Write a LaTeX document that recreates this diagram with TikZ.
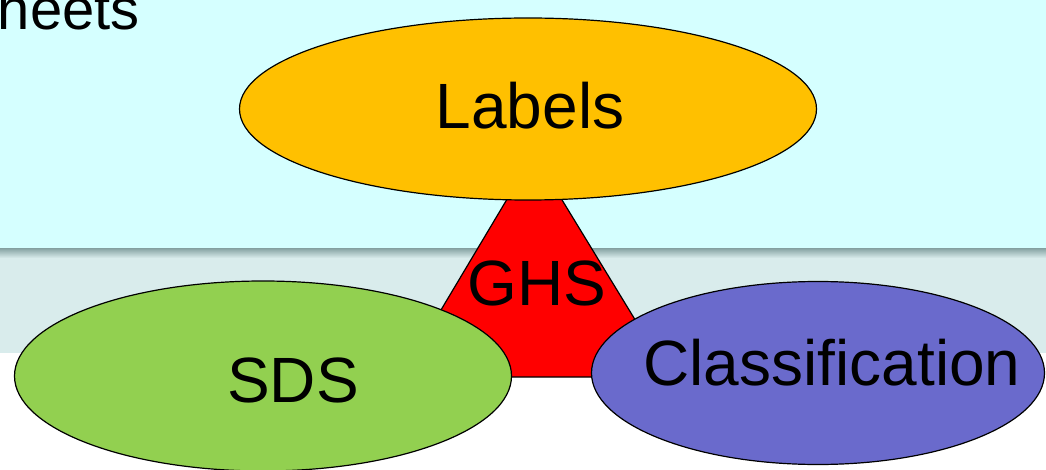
\documentclass[tikz,border=0pt]{standalone}
\usepackage{fontspec}
\setmainfont{Liberation Sans}
\usetikzlibrary{shapes.geometric}
\definecolor{skycyan}{RGB}{213,255,255}
\definecolor{bandgray}{RGB}{217,236,236}
\definecolor{shadowgray}{RGB}{140,168,168}
\definecolor{labelorange}{RGB}{255,192,0}
\definecolor{sdsgreen}{RGB}{146,208,80}
\definecolor{classpurple}{RGB}{106,106,204}

\begin{document}
\begin{tikzpicture}[x=1pt,y=-1pt,
    bigtext/.style={font=\fontsize{64}{76}\selectfont,inner sep=0pt},
    blob/.style={draw,ellipse,line width=1.2pt,inner sep=0pt}]
    \useasboundingbox (0,0) rectangle (1046,470);
    \clip (0,0) rectangle (1046,470);

    % Slide background
    \fill[skycyan] (0,0) rectangle (1046,249);
    \fill[bandgray] (0,258) rectangle (1046,353);
    \shade[top color=shadowgray,bottom color=bandgray] (0,249) rectangle (1046,258);

    % Title fragment
    \node[font=\fontsize{58}{68}\selectfont,inner sep=0pt,anchor=base east] (title) at (140,30) {Sheets};

    % GHS triangle
    \coordinate (apex) at (534,154);
    \coordinate (baseright) at (670,377);
    \coordinate (baseleft) at (401,377);
    \draw[line width=1.2pt,fill=red] (apex) -- (baseright) -- (baseleft) -- cycle;
    \node[bigtext] (ghs) at (537,283) {GHS};

    % Ellipses
    \node[blob,fill=labelorange,minimum width=577pt,minimum height=182pt] (labels) at (528,109) {};
    \node[blob,fill=sdsgreen,minimum width=497pt,minimum height=190pt] (sds) at (263,376) {};
    \node[blob,fill=classpurple,minimum width=453pt,minimum height=183pt] (class) at (818,373) {};

    % Texts
    \node[bigtext] (labelstext) at (530,106) {Labels};
    \node[bigtext] (sdstext) at (293,380) {SDS};
    \node[bigtext] (classtext) at (832,363) {Classification};
\end{tikzpicture}
\end{document}
